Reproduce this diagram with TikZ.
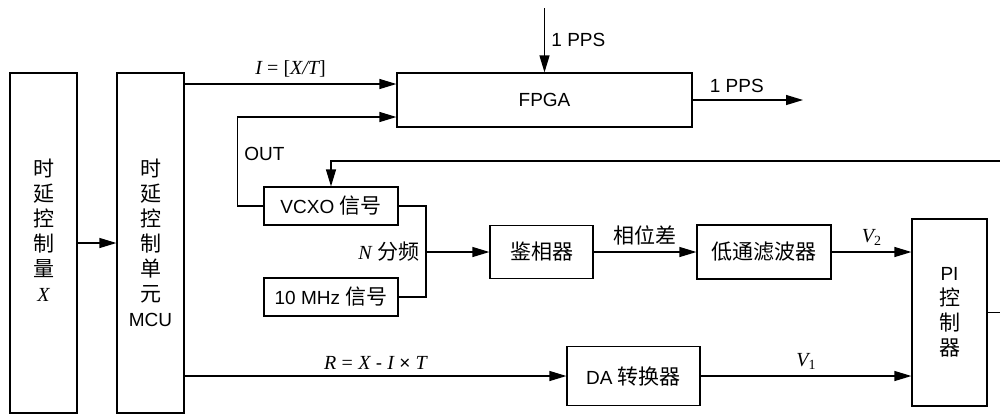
\documentclass[tikz,border=0pt]{standalone}
\usepackage{fontspec}
\setmainfont{Liberation Sans}[Scale=0.95]
\newfontfamily\cjk{Noto Sans CJK SC}[Scale=1.05]
\newfontfamily\tms{Liberation Serif}
\newcommand{\zh}[1]{{\cjk #1}}
\newcommand{\vr}[1]{{\tms\itshape #1}}
\usetikzlibrary{arrows.meta,positioning}
\tikzset{
  box/.style={draw,line width=0.6pt,align=center,inner sep=0pt},
  tallbox/.style={box,minimum width=33.5pt,minimum height=170pt},
  ar/.style={-{Triangle[length=8.5pt,width=5pt]},line width=0.6pt},
  ln/.style={line width=0.6pt},
}

\begin{document}
\begin{tikzpicture}[x=0.5pt,y=-0.5pt,font=\fontsize{10}{12.5}\selectfont]
  \useasboundingbox (0,0) rectangle (1000,414);
  % blocks
  \node[tallbox] (ctrl) at (43.5,243) {\zh{时}\\\zh{延}\\\zh{控}\\\zh{制}\\\zh{量}\\\vr{X}\\\mbox{}};
  \node[tallbox] (mcu) at (150.5,243) {\zh{时}\\\zh{延}\\\zh{控}\\\zh{制}\\\zh{单}\\\zh{元}\\MCU};
  \node[box,minimum width=147.5pt,minimum height=27pt] (fpga) at (544.5,100) {FPGA};
  \node[box,minimum width=67pt,minimum height=19pt] (vcxo) at (331,206) {VCXO \zh{信号}};
  \node[box,minimum width=67pt,minimum height=19pt] (ref) at (331,297) {10 MHz \zh{信号}};
  \node[box,minimum width=51.5pt,minimum height=26.5pt] (pd) at (541.5,252) {\zh{鉴相器}};
  \node[box,minimum width=67pt,minimum height=27pt] (lpf) at (764,252) {\zh{低通滤波器}};
  \node[box,minimum width=66.5pt,minimum height=29.5pt] (da) at (633.5,376) {DA \zh{转换器}};
  \node[box,minimum width=37.5pt,minimum height=93.5pt] (pi) at (949.5,312.5) {PI\\\zh{控}\\\zh{制}\\\zh{器}};
  % free ends
  \coordinate (fin1) at ([yshift=8pt]fpga.west);
  \coordinate (fin2) at ([yshift=-8.5pt]fpga.west);
  \coordinate (ppsin) at (544.5,8);
  \coordinate (ppsout) at (803,100);
  \coordinate (jn) at (426,252);
  \coordinate (fbr) at (1000,161);
  \coordinate (pio) at (1000,313);
  % connectors
  \draw[ar] (ctrl) -- (mcu);
  \draw[ar] (mcu.east |- fin1) -- node[above]{\vr{I} {\tms= [}\vr{X/T}{\tms]}} (fin1);
  \draw[ar] (vcxo.west) -- ++(-26,0) |- node[right,pos=0.29]{OUT} (fin2);
  \draw[ar] (ppsin) -- node[right]{1 PPS} (fpga.north);
  \draw[ar] (fpga.east) -- node[above,pos=0.4]{1 PPS} (ppsout);
  \draw[ln] (vcxo.east) -| (jn) node[left]{\vr{N} \zh{分频}} |- (ref.east);
  \draw[ar] (jn) -- (pd.west);
  \draw[ar] (pd) -- node[above]{\zh{相位差}} (lpf);
  \draw[ar] (lpf) -- node[above]{\vr{V}{\tms\scriptsize\raisebox{-0.4ex}{2}}} (lpf -| pi.west);
  \draw[ar] (mcu.east |- da.west) -- node[above]{\vr{R} {\tms=} \vr{X} - \vr{I} × \vr{T}} (da.west);
  \draw[ar] (da) -- node[above]{\vr{V}{\tms\scriptsize\raisebox{-0.4ex}{1}}} (da -| pi.west);
  \draw[ln] (pi.east) -- (pi.east -| pio);
  \draw[ar] (fbr) -| (vcxo.north);
\end{tikzpicture}
\end{document}
